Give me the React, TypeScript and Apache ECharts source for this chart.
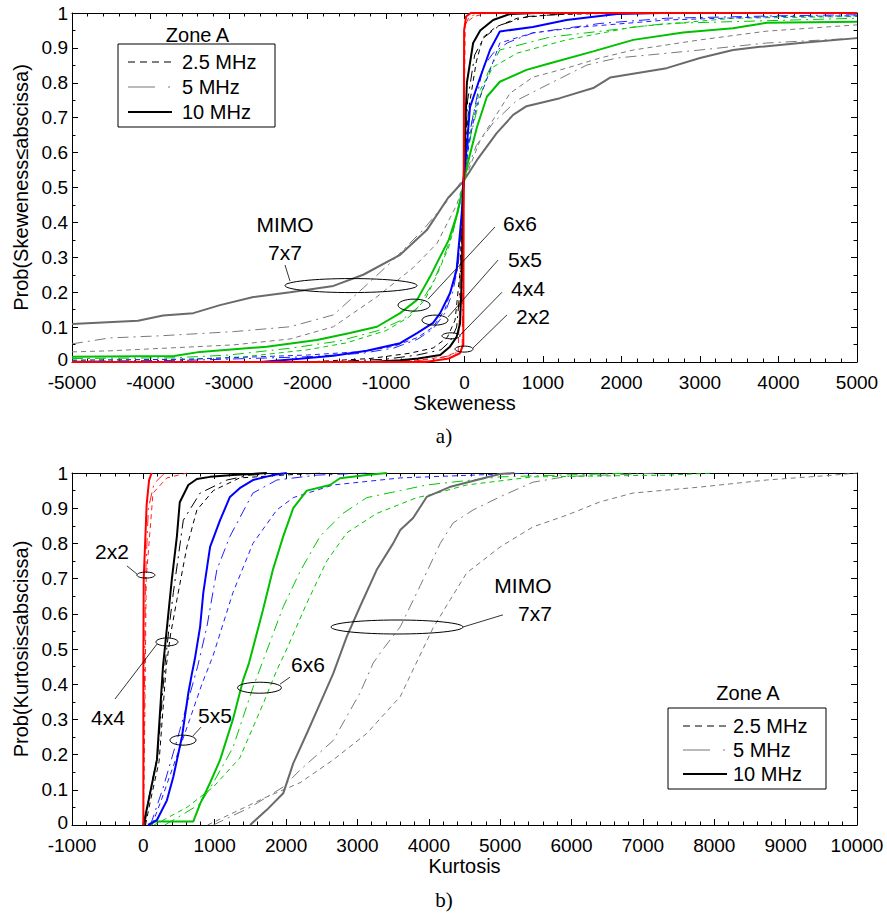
import React, { useEffect, useRef } from 'react';
import * as echarts from 'echarts';

// ---------- Skewness CDFs (x = skewness, y = probability) ----------
const SKEW_2x2_25 = [[-5000,0],[-1200,0],[-600,0.005],[-250,0.015],[-80,0.03],[-15,0.5],[10,0.97],[120,0.99],[300,1],[5000,1]];
const SKEW_2x2_5 = [[-5000,0],[-800,0],[-400,0.008],[-150,0.02],[-30,0.04],[-10,0.5],[0,0.96],[60,0.99],[200,1],[5000,1]];
const SKEW_2x2_10 = [[-5000,0],[-500,0],[-200,0.01],[-60,0.025],[-15,0.05],[-10,0.5],[-5,0.95],[20,0.99],[80,1],[5000,1]];

const SKEW_4x4_25 = [[-5000,0],[-2000,0],[-1200,0.01],[-700,0.025],[-400,0.04],[-220,0.07],[-120,0.12],[-60,0.25],[-25,0.45],[0,0.55],[50,0.72],[150,0.86],[235,0.93],[400,0.96],[670,0.985],[1100,0.995],[2000,1],[5000,1]];
const SKEW_4x4_5 = [[-5000,0],[-1800,0],[-1000,0.008],[-600,0.02],[-300,0.035],[-180,0.06],[-100,0.1],[-60,0.2],[-25,0.45],[0,0.55],[40,0.75],[130,0.88],[250,0.93],[450,0.965],[800,0.99],[1500,1],[5000,1]];
const SKEW_4x4_10 = [[-5000,0],[-1200,0],[-820,0.005],[-590,0.01],[-310,0.02],[-185,0.044],[-100,0.072],[-57,0.11],[-35,0.235],[-15,0.49],[0,0.6],[30,0.8],[110,0.914],[200,0.95],[365,0.98],[580,0.997],[900,1],[5000,1]];

const SKEW_5x5_25 = [[-5000,0.005],[-3500,0.008],[-2000,0.02],[-1300,0.03],[-900,0.045],[-600,0.07],[-400,0.1],[-250,0.15],[-150,0.22],[-80,0.3],[-30,0.43],[0,0.53],[60,0.63],[150,0.73],[300,0.82],[450,0.914],[870,0.943],[1500,0.96],[2575,0.98],[4000,0.99],[5000,0.992]];
const SKEW_5x5_5 = [[-5000,0.002],[-3500,0.005],[-2000,0.015],[-1300,0.025],[-900,0.04],[-600,0.065],[-400,0.095],[-250,0.14],[-150,0.2],[-80,0.28],[-30,0.42],[0,0.54],[60,0.65],[150,0.75],[235,0.845],[365,0.885],[550,0.915],[870,0.943],[1725,0.97],[2575,0.985],[4000,0.992],[5000,0.995]];
const SKEW_5x5_10 = [[-5000,0],[-2600,0],[-2100,0.009],[-1670,0.018],[-1245,0.032],[-820,0.054],[-605,0.083],[-400,0.112],[-310,0.14],[-185,0.197],[-100,0.264],[-35,0.427],[-15,0.513],[30,0.62],[70,0.73],[200,0.816],[325,0.894],[450,0.947],[870,0.96],[1300,0.98],[1940,0.997],[2500,1],[5000,1]];

const SKEW_6x6_25 = [[-5000,0.005],[-3500,0.008],[-2800,0.015],[-2000,0.035],[-1500,0.055],[-1000,0.09],[-700,0.13],[-500,0.18],[-350,0.25],[-200,0.33],[-80,0.43],[0,0.53],[100,0.7],[200,0.78],[365,0.845],[670,0.885],[1300,0.923],[2150,0.96],[3420,0.985],[5000,0.99]];
const SKEW_6x6_5 = [[-5000,0.01],[-3700,0.012],[-3000,0.02],[-2200,0.04],[-1600,0.06],[-1100,0.09],[-800,0.12],[-600,0.155],[-420,0.22],[-300,0.28],[-150,0.37],[-50,0.46],[0,0.53],[80,0.65],[200,0.76],[300,0.83],[450,0.894],[1090,0.931],[2575,0.97],[5000,0.985]];
const SKEW_6x6_10 = [[-5000,0.015],[-3700,0.017],[-3370,0.029],[-2520,0.044],[-1880,0.063],[-1460,0.083],[-1115,0.101],[-820,0.14],[-605,0.178],[-440,0.244],[-310,0.302],[-200,0.35],[-100,0.42],[-20,0.5],[30,0.56],[160,0.674],[285,0.76],[450,0.803],[790,0.837],[1090,0.856],[1640,0.89],[2150,0.923],[2785,0.944],[3420,0.956],[3850,0.972],[5000,0.975]];

const SKEW_7x7_25 = [[-5000,0.029],[-4515,0.032],[-2945,0.049],[-2220,0.066],[-1670,0.101],[-1115,0.187],[-655,0.27],[-350,0.34],[-100,0.45],[0,0.52],[200,0.636],[580,0.77],[870,0.816],[1300,0.842],[1725,0.871],[2150,0.894],[3000,0.923],[3850,0.948],[5000,0.966]];
const SKEW_7x7_5 = [[-5000,0.052],[-4515,0.069],[-3880,0.075],[-2945,0.087],[-2220,0.101],[-1670,0.135],[-1290,0.212],[-950,0.283],[-530,0.378],[-225,0.46],[0,0.53],[150,0.62],[365,0.685],[670,0.75],[1000,0.788],[1560,0.851],[1940,0.871],[2360,0.88],[3000,0.894],[3850,0.914],[5000,0.928]];
const SKEW_7x7_10 = [[-5000,0.109],[-4159,0.118],[-3840,0.133],[-3455,0.14],[-3115,0.163],[-2690,0.186],[-2220,0.2],[-1670,0.218],[-1290,0.25],[-820,0.307],[-480,0.378],[-210,0.47],[-20,0.516],[160,0.579],[410,0.656],[620,0.708],[790,0.733],[1215,0.756],[1640,0.785],[1855,0.815],[2575,0.842],[3000,0.871],[3420,0.894],[3765,0.903],[4275,0.914],[5000,0.928]];

// ---------- Kurtosis CDFs ----------
const KURT_2x2_25 = [[0,0],[20,0.3],[40,0.7],[135,0.943],[330,0.986],[610,1]];
const KURT_2x2_5 = [[0,0],[10,0.3],[30,0.7],[70,0.9],[150,0.97],[300,1]];
const KURT_2x2_10 = [[0,0],[0,0.45],[5,0.7],[46,0.91],[80,0.98],[116,1]];

const KURT_4x4_25 = [[30,0],[100,0.07],[220,0.18],[320,0.45],[380,0.54],[470,0.64],[610,0.79],[750,0.895],[980,0.95],[1350,0.986],[1960,0.994],[2500,1]];
const KURT_4x4_5 = [[20,0],[80,0.08],[200,0.2],[300,0.45],[360,0.56],[420,0.66],[560,0.866],[795,0.943],[1170,0.98],[1495,0.994],[2000,1]];
const KURT_4x4_10 = [[0,0],[65,0.062],[190,0.185],[275,0.45],[330,0.56],[400,0.7],[470,0.82],[510,0.917],[630,0.966],[750,0.983],[935,0.989],[1255,0.994],[1730,1]];

const KURT_5x5_25 = [[120,0],[250,0.07],[450,0.185],[650,0.3],[820,0.4],[975,0.48],[1255,0.66],[1535,0.8],[1870,0.895],[2100,0.93],[2660,0.966],[3600,0.986],[5000,0.997],[5500,1]];
const KURT_5x5_5 = [[100,0],[280,0.108],[470,0.24],[650,0.37],[760,0.45],[890,0.563],[1030,0.725],[1213,0.82],[1535,0.943],[1870,0.98],[2430,0.994],[3130,1]];
const KURT_5x5_10 = [[65,0],[190,0.014],[330,0.07],[420,0.137],[540,0.25],[630,0.375],[680,0.43],[720,0.47],[795,0.563],[840,0.66],[935,0.79],[1075,0.866],[1213,0.932],[1350,0.957],[1535,0.98],[1815,0.994],[2010,1]];

const KURT_6x6_25 = [[150,0],[610,0.05],[980,0.108],[1350,0.19],[1680,0.345],[1870,0.44],[2010,0.5],[2290,0.63],[2570,0.75],[2850,0.83],[3270,0.885],[3830,0.93],[4060,0.94],[4530,0.966],[5460,0.989],[7340,0.994],[8000,1]];
const KURT_6x6_5 = [[300,0],[470,0.02],[795,0.06],[980,0.12],[1255,0.22],[1535,0.39],[1775,0.52],[1960,0.62],[2195,0.72],[2475,0.82],[2795,0.885],[3130,0.93],[3600,0.95],[3970,0.966],[5000,0.989],[6860,1]];
const KURT_6x6_10 = [[100,0],[150,0.01],[700,0.01],[795,0.06],[935,0.12],[1075,0.185],[1255,0.3],[1395,0.41],[1480,0.46],[1675,0.61],[1815,0.725],[1960,0.82],[2100,0.9],[2290,0.95],[2615,0.966],[2755,0.985],[3130,0.994],[3410,1]];

const KURT_7x7_25 = [[900,0],[1730,0.08],[2195,0.12],[2660,0.185],[3130,0.26],[3600,0.365],[3800,0.45],[4060,0.56],[4300,0.64],[4530,0.716],[5000,0.79],[5460,0.847],[5930,0.88],[6400,0.918],[6860,0.943],[7800,0.96],[8730,0.98],[9670,0.994],[10000,1]];
const KURT_7x7_5 = [[980,0],[1495,0.05],[1960,0.108],[2195,0.156],[2660,0.24],[3035,0.375],[3220,0.46],[3360,0.5],[3600,0.563],[3880,0.68],[4160,0.8],[4340,0.858],[4620,0.895],[4995,0.932],[5460,0.974],[5930,0.99],[6860,0.997],[7200,1]];
const KURT_7x7_10 = [[1495,0],[1730,0.043],[1960,0.09],[2100,0.175],[2290,0.26],[2475,0.345],[2660,0.43],[2850,0.535],[3035,0.62],[3270,0.725],[3500,0.8],[3600,0.838],[3780,0.872],[3970,0.932],[4290,0.96],[4995,0.997],[5200,1]];

const BANDWIDTHS = ['2.5 MHz', '5 MHz', '10 MHz'];
const MIMO_ORDER = ['7x7', '6x6', '5x5', '4x4', '2x2'];

const SKEW_SETS: Record<string, number[][][]> = {
  '2x2': [SKEW_2x2_25, SKEW_2x2_5, SKEW_2x2_10],
  '4x4': [SKEW_4x4_25, SKEW_4x4_5, SKEW_4x4_10],
  '5x5': [SKEW_5x5_25, SKEW_5x5_5, SKEW_5x5_10],
  '6x6': [SKEW_6x6_25, SKEW_6x6_5, SKEW_6x6_10],
  '7x7': [SKEW_7x7_25, SKEW_7x7_5, SKEW_7x7_10],
};
const KURT_SETS: Record<string, number[][][]> = {
  '2x2': [KURT_2x2_25, KURT_2x2_5, KURT_2x2_10],
  '4x4': [KURT_4x4_25, KURT_4x4_5, KURT_4x4_10],
  '5x5': [KURT_5x5_25, KURT_5x5_5, KURT_5x5_10],
  '6x6': [KURT_6x6_25, KURT_6x6_5, KURT_6x6_10],
  '7x7': [KURT_7x7_25, KURT_7x7_5, KURT_7x7_10],
};

const COLORS: Record<string, string[]> = {
  '2x2': ['#ff2020', '#ff2020', '#ff0000'],
  '4x4': ['#000000', '#000000', '#000000'],
  '5x5': ['#2020ff', '#2020ff', '#0000ff'],
  '6x6': ['#00c800', '#00c800', '#00c000'],
  '7x7': ['#7a7a7a', '#7a7a7a', '#6a6a6a'],
};

// Annotations (data coords for anchors; radii in px)
const SKEW_ANN = [
  { e: [-1446, 0.219], rx: 66, ry: 7, a: [-2223, 0.232], b: [-2287, 0.278], texts: [['MIMO', -2287, 0.393], ['7x7', -2287, 0.315]] },
  { e: [-643, 0.163], rx: 16, ry: 6, a: [-465, 0.18], b: [389, 0.387], texts: [['6x6', 707, 0.398]] },
  { e: [-376, 0.12], rx: 13, ry: 5, a: [-210, 0.129], b: [427, 0.292], texts: [['5x5', 771, 0.295]] },
  { e: [-172, 0.075], rx: 9, ry: 3, a: [-57, 0.077], b: [478, 0.2], texts: [['4x4', 809, 0.212]] },
  { e: [-6, 0.037], rx: 9, ry: 3, a: [108, 0.04], b: [541, 0.135], texts: [['2x2', 873, 0.129]] },
];
const KURT_ANN = [
  { e: [36, 0.71], rx: 9, ry: 3, a: [-90, 0.713], b: [-230, 0.736], texts: [['2x2', -439, 0.776]] },
  { e: [331, 0.52], rx: 11, ry: 4, a: [191, 0.514], b: [-397, 0.358], texts: [['4x4', -496, 0.304]] },
  { e: [555, 0.241], rx: 13, ry: 5, a: [695, 0.253], b: [807, 0.278], texts: [['5x5', 1003, 0.3125]] },
  { e: [1627, 0.39], rx: 22, ry: 5.5, a: [1914, 0.4], b: [2054, 0.42], texts: [['6x6', 2306, 0.457]] },
  { e: [3554, 0.5625], rx: 66, ry: 7, a: [4479, 0.5625], b: [5039, 0.597], texts: [['MIMO', 5319, 0.679], ['7x7', 5488, 0.6]] },
];

const FONT = '"Liberation Sans", Arial, sans-serif';
const DASHES: any[] = [[5, 4], [11, 5, 2, 5], 'solid'];

function buildSeries(sets: Record<string, number[][][]>, axisIdx: number) {
  const out: any[] = [];
  MIMO_ORDER.forEach((m) => {
    sets[m].forEach((data, bi) => {
      out.push({
        type: 'line',
        name: m + ' ' + BANDWIDTHS[bi],
        xAxisIndex: axisIdx,
        yAxisIndex: axisIdx,
        data,
        symbol: 'none',
        showSymbol: false,
        silent: true,
        clip: true,
        z: bi === 2 ? 3 : 2,
        lineStyle: { color: COLORS[m][bi], width: bi === 2 ? 2 : 1, type: DASHES[bi] },
      });
    });
  });
  return out;
}

const tickStyle = { color: '#000', width: 1 };

function xAxisCfg(grid: number, min: number, max: number, position: string, labels: boolean, name: string) {
  return {
    type: 'value', gridIndex: grid, min, max, interval: 1000, position,
    axisLine: { show: true, onZero: false, lineStyle: { color: '#000', width: 1 } },
    axisTick: { show: true, inside: true, length: 6, lineStyle: tickStyle },
    minorTick: { show: true, splitNumber: 5, length: 3.5, lineStyle: tickStyle },
    splitLine: { show: false }, minorSplitLine: { show: false },
    axisLabel: {
      show: labels, color: '#000', fontFamily: FONT, fontSize: 19, margin: 13, lineHeight: 15,
      showMinLabel: true, showMaxLabel: true, hideOverlap: false,
      formatter: (v: number) => String(v),
    },
    name: labels ? name : '', nameLocation: 'middle', nameGap: 31,
    nameTextStyle: { color: '#000', fontFamily: FONT, fontSize: 20 },
  };
}
function yAxisCfg(grid: number, position: string, labels: boolean, name: string) {
  return {
    type: 'value', gridIndex: grid, min: 0, max: 1, interval: 0.1, position,
    axisLine: { show: true, onZero: false, lineStyle: { color: '#000', width: 1 } },
    axisTick: { show: true, inside: true, length: 6, lineStyle: tickStyle },
    minorTick: { show: true, splitNumber: 2, length: 3.5, lineStyle: tickStyle },
    splitLine: { show: false }, minorSplitLine: { show: false },
    axisLabel: {
      show: labels, color: '#000', fontFamily: FONT, fontSize: 19, margin: 4, lineHeight: 14,
      showMinLabel: true, showMaxLabel: true, hideOverlap: false,
      formatter: (v: number) => (Math.abs(v) < 1e-9 ? '{z|0}' : Math.abs(v - 1) < 1e-9 ? '1' : v.toFixed(1)),
      rich: { z: { color: '#000', fontFamily: FONT, fontSize: 19, lineHeight: 14, padding: [0, 0, 5, 0] } },
    },
    name: labels ? name : '', nameLocation: 'middle', nameGap: 40,
    nameTextStyle: { color: '#000', fontFamily: FONT, fontSize: 20 },
  };
}

function legendElems(x0: number, y0: number, w: number, h: number, titleDy: number, lx: number, tx: number, rows: number[]) {
  const els: any[] = [];
  els.push({ type: 'text', x: x0 + w / 2 + 1, y: y0 + titleDy, style: { text: 'Zone A', font: '20px ' + FONT, fill: '#000', align: 'center', verticalAlign: 'middle' }, z: 200 });
  els.push({ type: 'rect', shape: { x: x0, y: y0, width: w, height: h }, style: { fill: '#fff', stroke: '#000', lineWidth: 1 }, z: 199 });
  const styles = [
    { stroke: '#000', lineWidth: 1, lineDash: [7, 5] },
    { stroke: '#777', lineWidth: 1.2, lineDash: [27, 13, 2, 20] },
    { stroke: '#000', lineWidth: 2 },
  ];
  BANDWIDTHS.forEach((bw, i) => {
    const y = y0 + rows[i];
    els.push({ type: 'line', shape: { x1: x0 + lx, y1: y, x2: x0 + lx + 44, y2: y }, style: styles[i], z: 200 });
    els.push({ type: 'text', x: x0 + tx, y, style: { text: bw, font: '20px ' + FONT, fill: '#000', align: 'left', verticalAlign: 'middle' }, z: 200 });
  });
  return els;
}

function annElems(chart: any, finder: any, anns: any[]) {
  const els: any[] = [];
  anns.forEach((an) => {
    const c = chart.convertToPixel(finder, an.e);
    const a = chart.convertToPixel(finder, an.a);
    const b = chart.convertToPixel(finder, an.b);
    els.push({ type: 'ellipse', shape: { cx: c[0], cy: c[1], rx: an.rx, ry: an.ry }, style: { fill: 'none', stroke: '#000', lineWidth: 1 }, z: 150 });
    els.push({ type: 'line', shape: { x1: a[0], y1: a[1], x2: b[0], y2: b[1] }, style: { stroke: '#000', lineWidth: 0.8 }, z: 150 });
    an.texts.forEach((t: any) => {
      const p = chart.convertToPixel(finder, [t[1], t[2]]);
      els.push({ type: 'text', x: p[0], y: p[1], style: { text: t[0], font: '21px ' + FONT, fill: '#000', align: 'center', verticalAlign: 'middle' }, z: 150 });
    });
  });
  return els;
}

export default function App() {
  const ref = useRef<HTMLDivElement>(null);
  useEffect(() => {
    if (!ref.current) return;
    const chart = echarts.init(ref.current, null, { renderer: 'svg' });
    const option: any = {
      animation: false,
      backgroundColor: '#fff',
      grid: [
        { left: 72, top: 13, width: 785, height: 349 },
        { left: 72, top: 473, width: 785, height: 352 },
      ],
      xAxis: [
        xAxisCfg(0, -5000, 5000, 'bottom', true, 'Skeweness'),
        xAxisCfg(0, -5000, 5000, 'top', false, ''),
        xAxisCfg(1, -1000, 10000, 'bottom', true, 'Kurtosis'),
        xAxisCfg(1, -1000, 10000, 'top', false, ''),
      ],
      yAxis: [
        yAxisCfg(0, 'left', true, 'Prob(Skeweness\u2264abscissa)'),
        yAxisCfg(0, 'right', false, ''),
        yAxisCfg(1, 'left', true, 'Prob(Kurtosis\u2264abscissa)'),
        yAxisCfg(1, 'right', false, ''),
      ],
      series: [...buildSeries(SKEW_SETS, 0), ...buildSeries(KURT_SETS, 2)],
    };
    chart.setOption(option);
    const elements: any[] = [
      ...annElems(chart, { xAxisIndex: 0, yAxisIndex: 0 }, SKEW_ANN),
      ...annElems(chart, { xAxisIndex: 2, yAxisIndex: 2 }, KURT_ANN),
      ...legendElems(118, 44, 157, 83, -9.5, 10, 64, [18, 43, 68]),
      ...legendElems(668, 708, 158, 81, -15.5, 15, 65, [18, 42, 66]),
      { type: 'text', x: 444, y: 436, style: { text: 'a)', font: '21px "Liberation Serif", "Times New Roman", serif', fill: '#000', align: 'center', verticalAlign: 'middle' } },
      { type: 'text', x: 444, y: 900, style: { text: 'b)', font: '21px "Liberation Serif", "Times New Roman", serif', fill: '#000', align: 'center', verticalAlign: 'middle' } },
    ];
    chart.setOption({ graphic: { elements } });
    return () => chart.dispose();
  }, []);
  return <div ref={ref} style={{ position: 'absolute', left: 0, top: 0, width: 887, height: 916, background: '#fff' }} />;
}
